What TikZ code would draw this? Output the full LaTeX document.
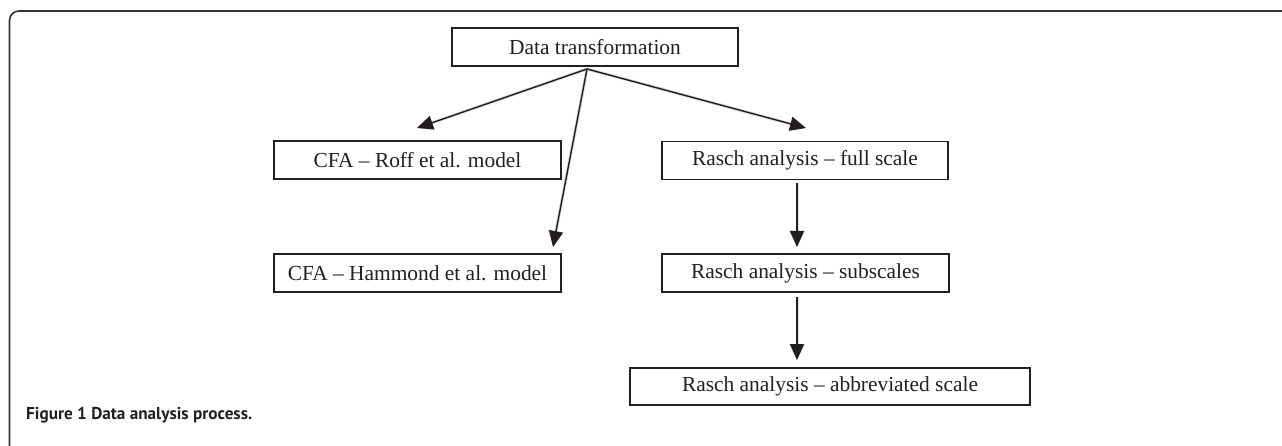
\documentclass[tikz,border=0pt]{standalone}
\usepackage{fontspec}
\setmainfont{Liberation Serif}
\newfontfamily\capfont{PT Sans}
\usetikzlibrary{arrows.meta}
\definecolor{ink}{HTML}{231F20}
\begin{document}
\begin{tikzpicture}[x=1pt,y=-1pt,
  box/.style={draw=ink,line width=1.3pt,rectangle,inner sep=0pt,minimum height=38pt,
    font=\fontsize{21.4}{25}\selectfont,text=ink},
  arr/.style={draw=ink,line width=1.4pt,-{Triangle[length=16pt,width=14pt]}},
  shad/.style={draw=black!15,line width=3pt,-{Triangle[length=16pt,width=15pt]}}]
\useasboundingbox (0,0) rectangle (1282,446);
% frame
\draw[draw=black!80,line width=1.6pt,rounded corners=9.5pt] (1282,11) -- (9.5,11) -- (9.5,446);
% nodes
\node[box,minimum width=286pt] (dt) at (595,47) {Data transformation};
\node[box,minimum width=287pt] (roff) at (417.5,160) {CFA -- Roff et al. model};
\node[box,minimum width=287pt] (ham) at (417.5,273) {CFA -- Hammond et al. model};
\node[box,minimum width=286pt] (full) at (805,160.5) {Rasch analysis -- full scale};
\node[box,minimum width=287pt] (sub) at (805.5,273) {Rasch analysis -- subscales};
\node[box,minimum width=400pt,minimum height=37pt] (abb) at (830,386.5) {Rasch analysis -- abbreviated scale};
\coordinate (o) at (587,69);
\coordinate (tr) at (417,128);
\coordinate (tf) at (806,128);
\coordinate (th) at (553,247);
\coordinate (f1) at (797,183);
\coordinate (f2) at (797,247);
\coordinate (s1) at (797,297);
\coordinate (s2) at (797,360);
% shadows
\begin{scope}[shift={(2,3)}]
\draw[shad] (o) -- (tr);
\draw[shad] (o) -- (tf);
\draw[shad] (o) -- (th);
\draw[shad] (f1) -- (f2);
\draw[shad] (s1) -- (s2);
\end{scope}
% arrows
\draw[arr] (o) -- (tr);
\draw[arr] (o) -- (tf);
\draw[arr] (o) -- (th);
\draw[arr] (f1) -- (f2);
\draw[arr] (s1) -- (s2);
% caption
\node[anchor=base west,inner sep=0pt,font=\capfont\bfseries\fontsize{17.2}{20}\selectfont,text=ink] (cap) at (26,419) {Figure 1 Data analysis process.};
\end{tikzpicture}
\end{document}
